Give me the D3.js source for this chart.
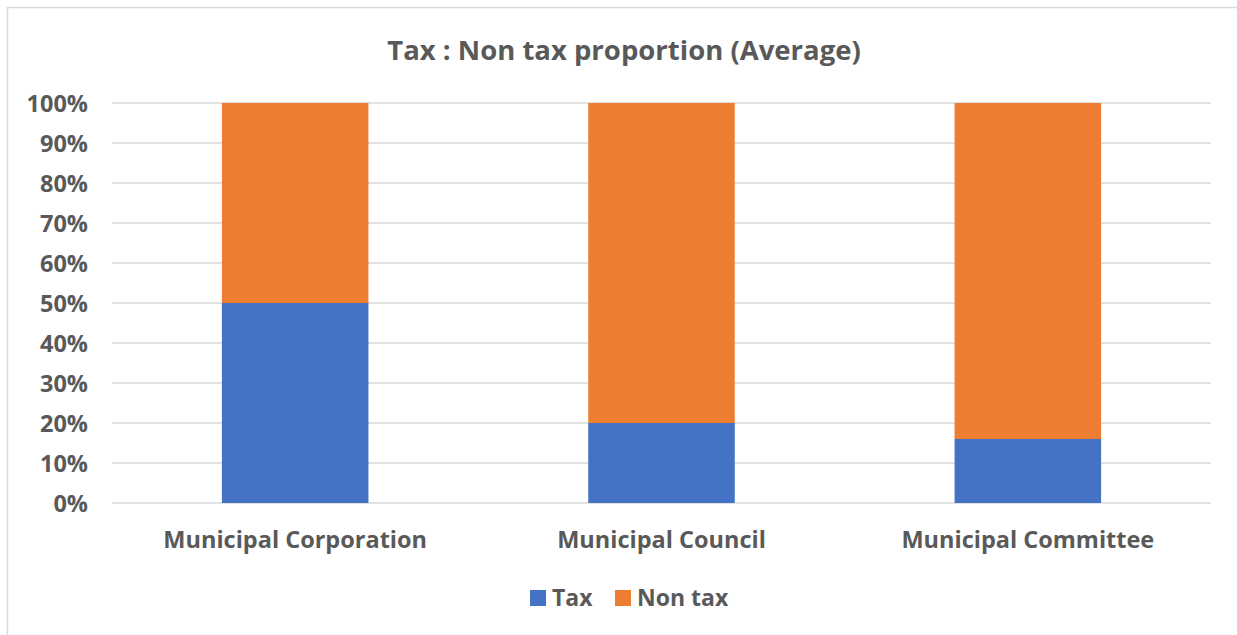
<!DOCTYPE html>
<html lang="en">
<head>
<meta charset="UTF-8">
<title>Tax : Non tax proportion (Average)</title>
<script src="https://d3js.org/d3.v7.min.js"></script>
<style>
    body { margin: 0; background: #fff; }
    text { font-family: "Open Sans", Calibri, sans-serif; font-weight: bold; fill: #595959; }
</style>
</head>
<body>
<div id="chart"></div>
<script>
    // data
    var categories = ['Municipal Corporation', 'Municipal Council', 'Municipal Committee'];
    var seriesNames = ['Tax', 'Non tax'];
    var taxShare = [0.50, 0.20, 0.16];
    var nonTaxShare = [0.50, 0.80, 0.84];
    var yTicks = [0, 0.1, 0.2, 0.3, 0.4, 0.5, 0.6, 0.7, 0.8, 0.9, 1.0];
    var colors = ['#4472C4', '#ED7D31'];

    var w = 1237, h = 635;
    var m = {top: 103, left: 112, right: 26, bottom: 132};

    var rows = categories.map(function(c, i){
        return {cat: c, 'Tax': taxShare[i], 'Non tax': nonTaxShare[i]};
    });
    var stacked = d3.stack().keys(seriesNames)(rows);

    var svg = d3.select('#chart').append('svg')
        .attr('width', w).attr('height', h);

    // chart frame
    svg.append('rect')
        .attr('x', 7.5).attr('y', 7.5)
        .attr('width', w).attr('height', h)
        .attr('fill', 'none').attr('stroke', '#d9d9d9').attr('stroke-width', 1.5);

    var x = d3.scaleBand()
        .domain(categories)
        .range([m.left, w - m.right])
        .paddingInner(0.6)
        .paddingOuter(0.3);

    var y = d3.scaleLinear()
        .domain([0, 1])
        .range([h - m.bottom, m.top]);

    // gridlines
    svg.append('g')
        .selectAll('line')
        .data(yTicks)
        .enter().append('line')
        .attr('x1', m.left).attr('x2', w - m.right)
        .attr('y1', function(d){ return y(d); })
        .attr('y2', function(d){ return y(d); })
        .attr('stroke', '#d9d9d9').attr('stroke-width', 1.5);

    // y axis labels
    var yAxis = d3.axisLeft(y).tickValues(yTicks).tickFormat(d3.format('.0%')).tickSize(0).tickPadding(24);
    var gy = svg.append('g').attr('transform', 'translate(' + m.left + ',0)').call(yAxis);
    gy.select('.domain').remove();
    gy.selectAll('text').style('font-size', '23.5px').attr('dy', '0.35em');

    // bars
    svg.append('g')
        .selectAll('g')
        .data(stacked)
        .enter().append('g')
        .attr('fill', function(d, i){ return colors[i]; })
        .selectAll('rect')
        .data(function(d){ return d; })
        .enter().append('rect')
        .attr('x', function(d){ return x(d.data.cat); })
        .attr('width', x.bandwidth())
        .attr('y', function(d){ return y(d[1]); })
        .attr('height', function(d){ return y(d[0]) - y(d[1]); });

    // x axis labels
    var xAxis = d3.axisBottom(x).tickSize(0).tickPadding(0);
    var gx = svg.append('g').attr('transform', 'translate(0,' + (h - m.bottom + 37) + ')').call(xAxis);
    gx.select('.domain').remove();
    gx.selectAll('text').style('font-size', '23.5px').attr('dy', '0.35em');

    // title
    svg.append('text')
        .attr('x', 624).attr('y', 50)
        .attr('text-anchor', 'middle').attr('dy', '0.35em')
        .style('font-size', '27.5px')
        .text('Tax : Non tax proportion (Average)');

    // legend
    var legendX = [530, 615];
    var legend = svg.append('g').selectAll('g')
        .data(seriesNames)
        .enter().append('g')
        .attr('transform', function(d, i){ return 'translate(' + legendX[i] + ',590)'; });
    legend.append('rect')
        .attr('width', 16).attr('height', 16)
        .attr('fill', function(d, i){ return colors[i]; });
    legend.append('text')
        .attr('x', 22).attr('y', 8).attr('dy', '0.35em')
        .style('font-size', '23px')
        .text(function(d){ return d; });
</script>
</body>
</html>
